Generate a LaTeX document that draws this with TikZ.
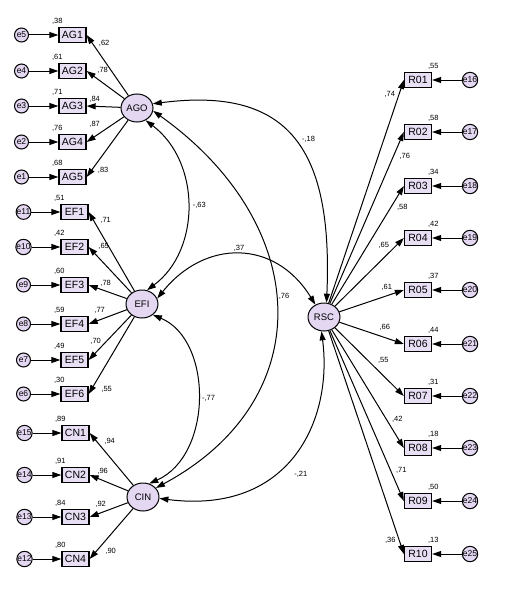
\documentclass[tikz,border=0pt]{standalone}
\usepackage{fontspec}
\setmainfont{Liberation Sans}
\usetikzlibrary{positioning,arrows.meta,shapes.geometric}

\definecolor{boxfill}{HTML}{E8DFF5}
\definecolor{latfill}{HTML}{E4D7F2}

\tikzset{
  obs/.style={draw, line width=1.3pt, fill=boxfill, minimum width=27pt, minimum height=15pt,
    inner sep=0pt, font=\fontsize{10.5}{10.5}\selectfont},
  lat/.style={draw, ellipse, fill=latfill, minimum width=32pt, minimum height=28pt,
    inner sep=0pt, font=\fontsize{9.5}{9.5}\selectfont},
  err/.style={draw, circle, fill=latfill, minimum size=14pt, inner sep=0pt,
    font=\fontsize{8.5}{8.5}\selectfont},
  coef/.style={font=\fontsize{7.5}{7.5}\selectfont, inner sep=0pt},
  lvar/.style={label={[coef,label distance=2pt]135:#1}},
  rvar/.style={label={[coef,label distance=2pt]45:#1}},
  lbl/.style n args={2}{coef, pos=1, xshift=#1, yshift=#2},
}

\begin{document}
\begin{tikzpicture}[x=1pt, y=-1pt, node distance=51pt, on grid, line width=1pt,
    >={Triangle[length=9pt,width=6pt]}]
  \useasboundingbox (0,0) rectangle (513,610);

  % latent factors
  \node[lat] (AGO) at (137,108) {AGO};
  \node[lat] (EFI) at (142,304) {EFI};
  \node[lat] (CIN) at (143,497) {CIN};
  \node[lat] (RSC) at (324,317) {RSC};

  % AGO indicators
  \node[obs, lvar={,38}] (AG1) at (72.5,35)  {AG1};
  \node[obs, lvar={,61}] (AG2) at (72.5,71)  {AG2};
  \node[obs, lvar={,71}] (AG3) at (72.5,106) {AG3};
  \node[obs, lvar={,76}] (AG4) at (72.5,142) {AG4};
  \node[obs, lvar={,68}] (AG5) at (72.5,177) {AG5};

  % EFI indicators
  \node[obs, lvar={,51}] (EF1) at (74.5,212) {EF1};
  \node[obs, lvar={,42}] (EF2) at (74.5,247) {EF2};
  \node[obs, lvar={,60}] (EF3) at (74.5,285) {EF3};
  \node[obs, lvar={,59}] (EF4) at (74.5,324) {EF4};
  \node[obs, lvar={,49}] (EF5) at (74.5,360) {EF5};
  \node[obs, lvar={,30}] (EF6) at (74.5,394) {EF6};

  % CIN indicators
  \node[obs, lvar={,89}] (CN1) at (75.5,433) {CN1};
  \node[obs, lvar={,91}] (CN2) at (75.5,475) {CN2};
  \node[obs, lvar={,84}] (CN3) at (75.5,517) {CN3};
  \node[obs, lvar={,80}] (CN4) at (75.5,559) {CN4};

  % RSC indicators
  \node[obs, rvar={,55}] (R01) at (418,80)  {R01};
  \node[obs, rvar={,58}] (R02) at (418,132) {R02};
  \node[obs, rvar={,34}] (R03) at (418,186) {R03};
  \node[obs, rvar={,42}] (R04) at (418,238) {R04};
  \node[obs, rvar={,37}] (R05) at (418,290) {R05};
  \node[obs, rvar={,44}] (R06) at (418,344) {R06};
  \node[obs, rvar={,31}] (R07) at (418,396) {R07};
  \node[obs, rvar={,18}] (R08) at (418,448) {R08};
  \node[obs, rvar={,50}] (R09) at (418,501) {R09};
  \node[obs, rvar={,13}] (R10) at (418,554) {R10};

  % error terms
  \node[err] (e5)  [left=of AG1] {e5};
  \node[err] (e4)  [left=of AG2] {e4};
  \node[err] (e3)  [left=of AG3] {e3};
  \node[err] (e2)  [left=of AG4] {e2};
  \node[err] (e1)  [left=of AG5] {e1};
  \node[err] (e11) [left=of EF1] {e11};
  \node[err] (e10) [left=of EF2] {e10};
  \node[err] (e9)  [left=of EF3] {e9};
  \node[err] (e8)  [left=of EF4] {e8};
  \node[err] (e7)  [left=of EF5] {e7};
  \node[err] (e6)  [left=of EF6] {e6};
  \node[err] (e15) [left=of CN1] {e15};
  \node[err] (e14) [left=of CN2] {e14};
  \node[err] (e13) [left=of CN3] {e13};
  \node[err] (e12) [left=of CN4] {e12};
  \node[err] (e16) [right=52pt of R01] {e16};
  \node[err] (e17) [right=52pt of R02] {e17};
  \node[err] (e18) [right=52pt of R03] {e18};
  \node[err] (e19) [right=52pt of R04] {e19};
  \node[err] (e20) [right=52pt of R05] {e20};
  \node[err] (e21) [right=52pt of R06] {e21};
  \node[err] (e22) [right=52pt of R07] {e22};
  \node[err] (e23) [right=52pt of R08] {e23};
  \node[err] (e24) [right=52pt of R09] {e24};
  \node[err] (e25) [right=52pt of R10] {e25};

  % errors into indicators
  \path[->]
    (e5) edge (AG1)   (e4) edge (AG2)   (e3) edge (AG3)   (e2) edge (AG4)   (e1) edge (AG5)
    (e11) edge (EF1)  (e10) edge (EF2)  (e9) edge (EF3)   (e8) edge (EF4)   (e7) edge (EF5)
    (e6) edge (EF6)
    (e15) edge (CN1)  (e14) edge (CN2)  (e13) edge (CN3)  (e12) edge (CN4)
    (e16) edge (R01)  (e17) edge (R02)  (e18) edge (R03)  (e19) edge (R04)  (e20) edge (R05)
    (e21) edge (R06)  (e22) edge (R07)  (e23) edge (R08)  (e24) edge (R09)  (e25) edge (R10);

  % loadings: AGO
  \path[->]
    (AGO) edge node[lbl={17.5pt}{-8.5pt}] {,62} (AG1.east)
    (AGO) edge node[lbl={16pt}{0.5pt}]    {,78} (AG2.east)
    (AGO) edge node[lbl={8pt}{6.5pt}]     {,84} (AG3.east)
    (AGO) edge node[lbl={8pt}{17.5pt}]    {,87} (AG4.east)
    (AGO) edge node[lbl={16.5pt}{6.5pt}]  {,83} (AG5.east);

  % loadings: EFI
  \path[->]
    (EFI) edge node[lbl={17pt}{-8.5pt}] {,71} (EF1.east)
    (EFI) edge node[lbl={15pt}{1pt}]    {,65} (EF2.east)
    (EFI) edge node[lbl={17pt}{2pt}]    {,78} (EF3.east)
    (EFI) edge node[lbl={11pt}{14pt}]   {,77} (EF4.east)
    (EFI) edge node[lbl={7pt}{19pt}]    {,70} (EF5.east)
    (EFI) edge node[lbl={18pt}{5pt}]    {,55} (EF6.east);

  % loadings: CIN
  \path[->]
    (CIN) edge node[lbl={20pt}{-8pt}] {,94} (CN1.east)
    (CIN) edge node[lbl={13pt}{4pt}]  {,96} (CN2.east)
    (CIN) edge node[lbl={11pt}{13pt}] {,92} (CN3.east)
    (CIN) edge node[lbl={21pt}{8pt}]  {,90} (CN4.east);

  % loadings: RSC
  \path[->]
    (RSC) edge node[lbl={-14pt}{-14.5pt}] {,74} (R01.west)
    (RSC) edge node[lbl={1pt}{-24.5pt}]   {,76} (R02.west)
    (RSC) edge node[lbl={-1.5pt}{-21.5pt}] {,58} (R03.west)
    (RSC) edge node[lbl={-20pt}{-7.5pt}]  {,65} (R04.west)
    (RSC) edge node[lbl={-17pt}{2.5pt}]   {,61} (R05.west)
    (RSC) edge node[lbl={-19pt}{17pt}]    {,66} (R06.west)
    (RSC) edge node[lbl={-20.5pt}{35.5pt}] {,55} (R07.west)
    (RSC) edge node[lbl={-6.5pt}{29pt}]   {,42} (R08.west)
    (RSC) edge node[lbl={-2.5pt}{31pt}]   {,71} (R09.west)
    (RSC) edge node[lbl={-13.5pt}{13.5pt}] {,36} (R10.west);

  % covariances
  \draw[<->] (AGO.-55) .. controls (201,162) and (201,250) .. node[coef, pos=0.5, right=5pt] {-,63} (EFI.70);
  \draw[<->] (AGO.15) .. controls (290,86) and (333,150) .. node[coef, pos=0.5, right=8pt] {-,18} (RSC.80);
  \draw[<->] (AGO.-10) .. controls (313,225) and (320,400) .. node[coef, pos=0.47, right=3pt] {,76} (CIN.35);
  \draw[<->] (EFI.20) .. controls (205,239) and (275,239) .. node[coef, pos=0.5, above=3pt] {,37} (RSC.125);
  \draw[<->] (EFI.-45) .. controls (213,340) and (213,455) .. node[coef, pos=0.5, right=4pt] {-,77} (CIN.65);
  \draw[<->] (CIN.-5) .. controls (290,515) and (333,420) .. node[coef, pos=0.5, xshift=7pt, yshift=-20pt] {-,21} (RSC.-100);
\end{tikzpicture}
\end{document}
